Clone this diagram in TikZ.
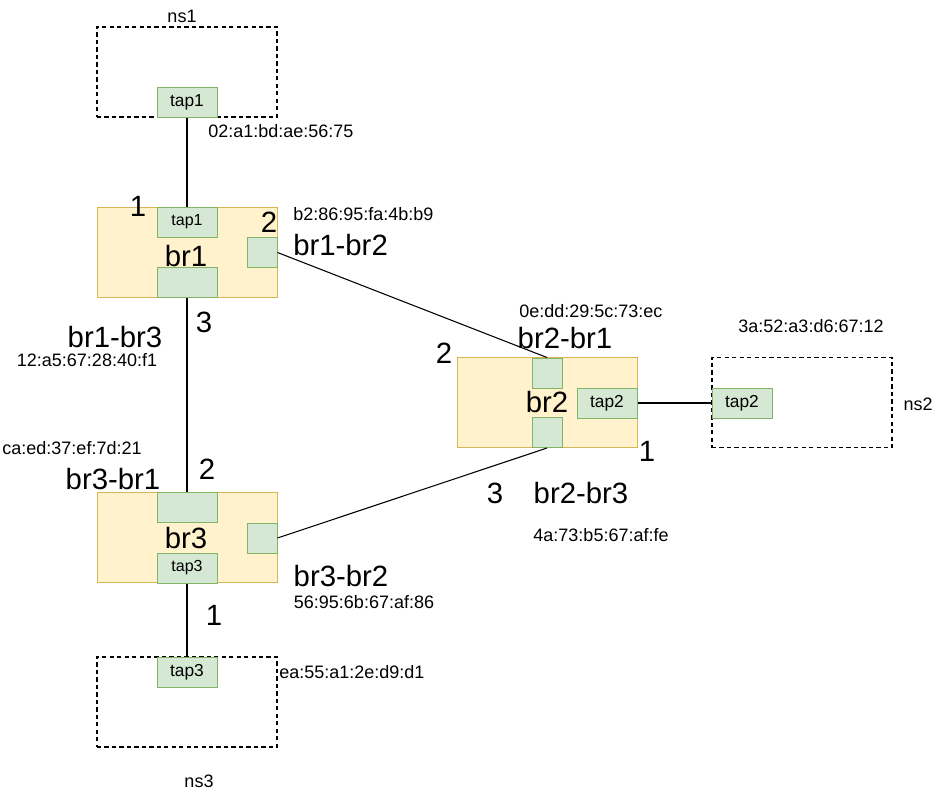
\documentclass[tikz,border=0pt]{standalone}
\usepackage{fontspec}
\setmainfont{Liberation Sans}
\definecolor{brf}{HTML}{FFF2CC}
\definecolor{brd}{HTML}{D6B656}
\definecolor{grf}{HTML}{D5E8D4}
\definecolor{grd}{HTML}{82B366}
\tikzset{
  nsbox/.style={draw=black, line width=0.8pt, dash pattern=on 3.2pt off 2.4pt, minimum width=135pt, minimum height=67.5pt, inner sep=0pt},
  brbox/.style={draw=brd, fill=brf, line width=0.75pt, minimum width=135pt, minimum height=67.5pt, inner sep=0pt},
  port/.style={draw=grd, fill=grf, line width=0.75pt, minimum width=45pt, minimum height=22.5pt, inner sep=0pt, font=\fontsize{12}{14}\selectfont},
  sport/.style={port, minimum width=22.5pt},
  big/.style={inner sep=0pt, font=\fontsize{22}{26}\selectfont},
  mac/.style={inner sep=0pt, font=\fontsize{13.5}{16}\selectfont},
  small/.style={inner sep=0pt, font=\fontsize{13.5}{16}\selectfont},
  link/.style={draw=black, line width=0.8pt}
}
\begin{document}
\begin{tikzpicture}[x=0.75pt,y=-0.75pt]
\useasboundingbox (0,0) rectangle (948,797);
% namespaces
\node[nsbox] (ns1) at (187,72) {};
\node[nsbox] (ns2) at (802,402.5) {};
\node[nsbox] (ns3) at (187,702) {};
% bridges
\node[brbox] (br1) at (187,252) {};
\node[brbox] (br2) at (547,402.5) {};
\node[brbox] (br3) at (187,537.5) {};
% ports
\node[port, font=\fontsize{13}{15}\selectfont] (ns1tap) at (187,102.5) {tap1};
\node[port] (br1tap) at (187,222) {tap1};
\node[sport] (br1r) at (262,252.5) {};
\node[port] (br1b) at (187,282) {};
\node[sport] (br2t) at (547,373) {};
\node[sport] (br2b) at (547,432.5) {};
\node[port, font=\fontsize{13}{15}\selectfont] (br2tap) at (607,403) {tap2};
\node[port, font=\fontsize{13}{15}\selectfont] (ns2tap) at (742,403) {tap2};
\node[port] (br3t) at (187,507) {};
\node[sport] (br3r) at (262,538) {};
\node[port] (br3tap) at (187,568) {tap3};
\node[port, font=\fontsize{13}{15}\selectfont] (ns3tap) at (187,672) {tap3};
% links
\draw[link] (ns1tap.south) -- (br1tap.north);
\draw[link] (br1b.south) -- (br3t.north);
\draw[link] (br1r.east) -- (br2t.north);
\draw[link] (br3r.east) -- (br2b.south);
\draw[link] (br2tap.east) -- (ns2tap.west);
\draw[link] (br3tap.south) -- (ns3tap.north);
% bridge names
\node[big] (l-br1) at (186,256) {br1};
\node[big] (l-br2) at (547,402) {br2};
\node[big] (l-br3) at (186,538) {br3};
% namespace names
\node[small] (l-ns1) at (182,16) {ns1};
\node[small] (l-ns2) at (918,404) {ns2};
\node[small] (l-ns3) at (199,781) {ns3};
% interface names
\node[big, anchor=west] (l-br1br2) at (293,245) {br1-br2};
\node[big] (l-br2br1) at (565,338) {br2-br1};
\node[big] (l-br1br3) at (115,337) {br1-br3};
\node[big] (l-br3br1) at (113,479) {br3-br1};
\node[big] (l-br3br2) at (341,576) {br3-br2};
\node[big] (l-br2br3) at (581,493) {br2-br3};
% port numbers
\node[big] (n1a) at (138,206) {1};
\node[big] (n1b) at (269,222) {2};
\node[big] (n1c) at (204,322) {3};
\node[big] (n2a) at (444,353) {2};
\node[big] (n2b) at (647,451) {1};
\node[big] (n2c) at (495,493) {3};
\node[big] (n3a) at (207,469) {2};
\node[big] (n3b) at (214,615) {1};
% MAC addresses
\node[mac, anchor=west] (m1) at (208,131) {02:a1:bd:ae:56:75};
\node[mac, anchor=west] (m2) at (293,214) {b2:86:95:fa:4b:b9};
\node[mac, anchor=west] (m3) at (519,311) {0e:dd:29:5c:73:ec};
\node[mac] (m4) at (811,326) {3a:52:a3:d6:67:12};
\node[mac] (m5) at (87,360) {12:a5:67:28:40:f1};
\node[mac] (m6) at (72,448) {ca:ed:37:ef:7d:21};
\node[mac] (m7) at (601,535) {4a:73:b5:67:af:fe};
\node[mac] (m8) at (364,602) {56:95:6b:67:af:86};
\node[mac, anchor=west] (m9) at (279,672) {ea:55:a1:2e:d9:d1};
\end{tikzpicture}
\end{document}
